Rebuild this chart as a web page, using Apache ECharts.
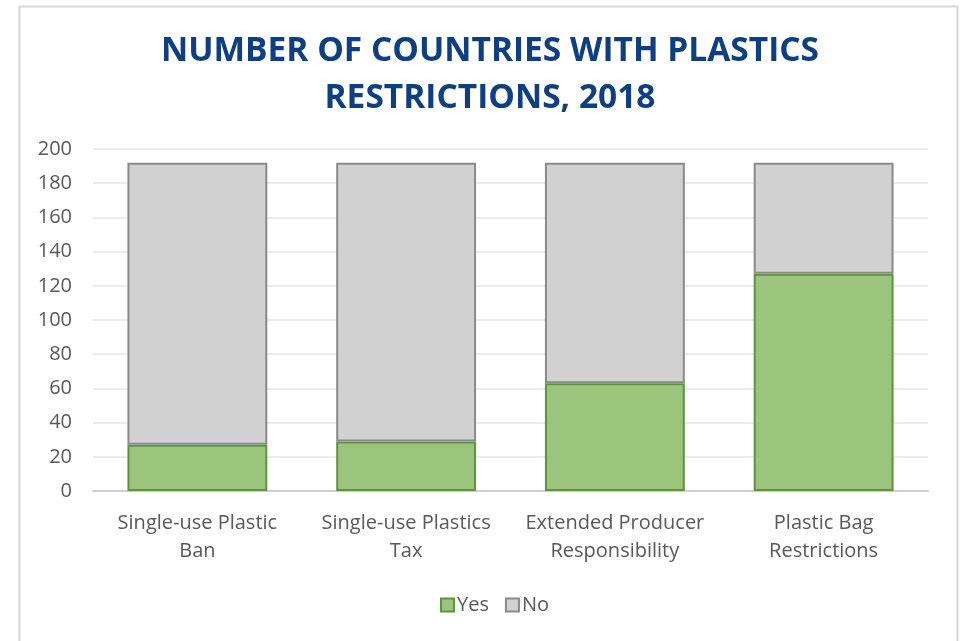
<!DOCTYPE html>
<html>
<head>
<meta charset="utf-8">
<script src="https://cdn.jsdelivr.net/npm/echarts@6/dist/echarts.min.js"></script>
<style>
  html, body { margin: 0; padding: 0; background: #fff; }
  #chart { width: 961px; height: 641px; }
</style>
</head>
<body>
<div id="chart"></div>
<script>
const categories = ["Single-use Plastic\nBan", "Single-use Plastics\nTax", "Extended Producer\nResponsibility", "Plastic Bag\nRestrictions"];
const yesValues = [27, 29, 63, 127];
const noValues = [165, 163, 129, 65];
const yTicks = { min: 0, max: 200, interval: 20 };

const chart = echarts.init(document.getElementById('chart'), null, { renderer: 'canvas' });
const font = '"Open Sans", "Noto Sans", sans-serif';
chart.setOption({
  backgroundColor: '#ffffff',
  animation: false,
  graphic: [{
    type: 'rect', left: 17, top: 4, z: -1,
    shape: { width: 938, height: 660 },
    style: { fill: 'none', stroke: '#d6d6d6', lineWidth: 2 }
  }],
  title: {
    text: 'NUMBER OF COUNTRIES WITH PLASTICS\nRESTRICTIONS, 2018',
    left: 485, top: 23, textAlign: 'center',
    textStyle: { fontFamily: font, fontWeight: 'bold', fontSize: 33.5, color: '#0d3f82', lineHeight: 47 }
  },
  legend: {
    bottom: 21, left: 435,
    itemWidth: 13, itemHeight: 13, itemGap: 16,
    icon: 'rect',
    textStyle: { fontFamily: font, fontSize: 20, color: '#595959', padding: [0, 0, 0, -2] },
    data: ['Yes', 'No']
  },
  grid: { left: 93, right: 33, top: 149, bottom: 150, containLabel: false },
  xAxis: {
    type: 'category', data: categories,
    axisLine: { lineStyle: { color: '#d0d0d0', width: 2 } },
    axisTick: { show: false },
    axisLabel: { interval: 0, fontFamily: font, fontSize: 20, color: '#595959', lineHeight: 28, margin: 18 }
  },
  yAxis: {
    type: 'value', min: yTicks.min, max: yTicks.max, interval: yTicks.interval,
    axisLine: { show: false }, axisTick: { show: false },
    splitLine: { lineStyle: { color: '#ececec', width: 2 } },
    axisLabel: { fontFamily: font, fontSize: 20, color: '#595959', margin: 21 }
  },
  series: [
    { name: 'Yes', type: 'bar', stack: 'total', data: yesValues, barCategoryGap: '33%',
      itemStyle: { color: '#9bc47d', borderColor: '#5e9440', borderWidth: 2 } },
    { name: 'No', type: 'bar', stack: 'total', data: noValues, barCategoryGap: '33%',
      itemStyle: { color: '#d1d1d1', borderColor: '#8a8a8a', borderWidth: 2 } }
  ]
});
</script>
</body>
</html>
